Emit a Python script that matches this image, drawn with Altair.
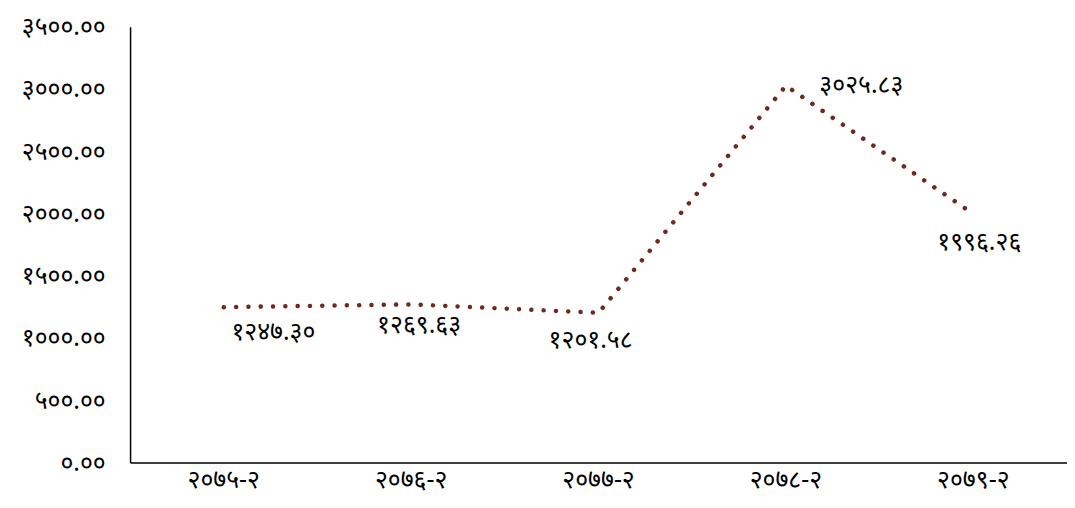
import altair as alt
import pandas as pd

# Data
years = ["२०७५-२", "२०७६-२", "२०७७-२", "२०७८-२", "२०७९-२"]
values = [1247.30, 1269.63, 1201.58, 3025.83, 1996.26]
y_ticks = [0, 500, 1000, 1500, 2000, 2500, 3000, 3500]

DEV = str.maketrans("0123456789", "०१२३४५६७८९")
labels = [f"{v:.2f}".translate(DEV) for v in values]
y_tick_labels = [f"{v:.2f}".translate(DEV) for v in y_ticks]

# label offsets (style)
label_dx = [50, 8, -8, 76, 6]
label_dy = [25, 21, 27, -1, 28]

df = pd.DataFrame({"year": years, "value": values, "label": labels})

FONT = "Noto Sans"
FS = 25
COLOR = "#6f2a1d"

label_expr = " : ".join(
    f"datum.value == {t} ? '{l}'" for t, l in zip(y_ticks, y_tick_labels)
) + " : ''"

x = alt.X("year:N", sort=years, title=None,
          scale=alt.Scale(type="band", paddingInner=0, paddingOuter=0),
          axis=alt.Axis(labelAngle=0, ticks=False, labelPadding=17, labelFontSize=FS,
                        labelFont=FONT, labelColor="#000", domainColor="#000",
                        domainWidth=1.5, grid=False, labelBaseline="middle"))
y = alt.Y("value:Q", title=None,
          scale=alt.Scale(domain=[0, 3500], nice=False),
          axis=alt.Axis(values=y_ticks, labelExpr=label_expr, ticks=False,
                        labelPadding=25, labelFontSize=FS, labelFont=FONT,
                        labelColor="#000", domainColor="#000", domainWidth=1.5,
                        grid=False))

line = alt.Chart(df).mark_line(
    color=COLOR, strokeWidth=4.5, strokeCap="round", strokeDash=[0.1, 12.3]
).encode(x=x, y=y)

texts = []
for i in range(len(years)):
    t = alt.Chart(df.iloc[[i]]).mark_text(
        font=FONT, fontSize=FS, color="#000", align="center", baseline="middle",
        dx=label_dx[i], dy=label_dy[i]
    ).encode(x=alt.X("year:N", sort=years), y="value:Q", text="label:N")
    texts.append(t)

chart = alt.layer(line, *texts).properties(
    width=944, height=439,
    autosize=alt.AutoSizeParams(type="none"),
    padding={"left": 123, "top": 17, "right": 0, "bottom": 36},
).configure(background="white", view={"stroke": None})

chart.save("out.html", embed_options={"renderer": "svg", "actions": False})
